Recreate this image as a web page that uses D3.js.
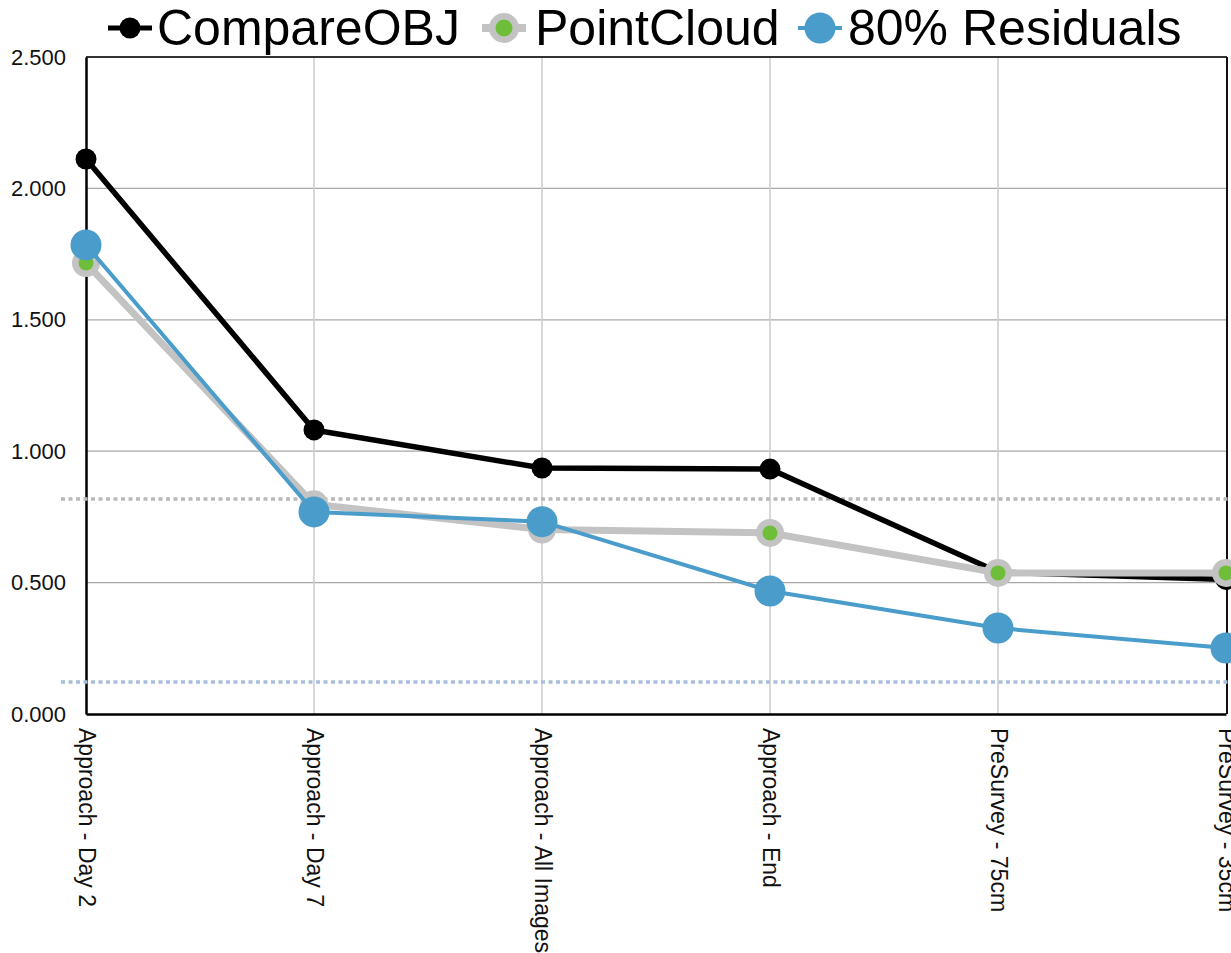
<!DOCTYPE html>
<html>
<head>
<meta charset="utf-8">
<script src="https://cdn.jsdelivr.net/npm/d3@7"></script>
<style>
  html, body { margin: 0; padding: 0; background: #fff; }
  svg { display: block; font-family: "Liberation Sans", Arial, sans-serif; }
</style>
</head>
<body>
<svg id="chart" width="1231" height="953"></svg>
<script>
// Categories along the x axis
const categories = [
  "Approach - Day 2",
  "Approach - Day 7",
  "Approach - All Images",
  "Approach - End",
  "PreSurvey - 75cm",
  "PreSurvey - 35cm"
];

// Series values
const compareObj = [2.112, 1.081, 0.936, 0.932, 0.540, 0.512];
const pointCloud = [1.716, 0.798, 0.702, 0.689, 0.537, 0.537];
const residuals80 = [1.785, 0.769, 0.732, 0.468, 0.327, 0.251];

// Reference levels drawn as dotted lines
const referenceLevels = [0.818, 0.122];

// Y axis ticks
const yTicks = [0, 0.5, 1.0, 1.5, 2.0, 2.5];

const seriesNames = ["CompareOBJ", "PointCloud", "80% Residuals"];

(function () {
const svg = d3.select("#chart");
const plotLeft = 86, plotRight = 1226, plotTop = 57, plotBottom = 714;

const x = d3.scalePoint().domain(categories).range([plotLeft, plotRight]).padding(0);
const y = d3.scaleLinear().domain([0, 2.5]).range([plotBottom, plotTop]);

// Horizontal grid
svg.append("g")
  .selectAll("line")
  .data(yTicks.slice(1, -1))
  .join("line")
  .attr("x1", plotLeft).attr("x2", plotRight)
  .attr("y1", d => y(d)).attr("y2", d => y(d))
  .attr("stroke", "#a8a8a8").attr("stroke-width", 1.2);

// Vertical grid
svg.append("g")
  .selectAll("line")
  .data(categories.slice(1, -1))
  .join("line")
  .attr("x1", d => x(d)).attr("x2", d => x(d))
  .attr("y1", plotTop).attr("y2", plotBottom)
  .attr("stroke", "#cfcfcf").attr("stroke-width", 1.6);

// Frame
svg.append("line").attr("x1", plotLeft).attr("x2", plotRight + 1).attr("y1", plotTop).attr("y2", plotTop)
  .attr("stroke", "#333").attr("stroke-width", 2);
svg.append("line").attr("x1", plotRight + 1).attr("x2", plotRight + 1).attr("y1", plotTop).attr("y2", plotBottom)
  .attr("stroke", "#111").attr("stroke-width", 2);

// Y axis
const yAxis = d3.axisLeft(y).tickValues(yTicks).tickSize(0).tickPadding(20)
  .tickFormat(d3.format(".3f"));
const gy = svg.append("g").attr("transform", `translate(${plotLeft},0)`).call(yAxis);
gy.select(".domain").attr("stroke", "#000").attr("stroke-width", 2.5);
gy.selectAll("text").attr("font-size", 22).attr("fill", "#111")
  .attr("font-family", "'Liberation Sans', Arial, sans-serif");

// X axis
const xAxis = d3.axisBottom(x).tickSize(0).tickPadding(0);
const gx = svg.append("g").attr("transform", `translate(0,${plotBottom})`).call(xAxis);
gx.select(".domain").attr("stroke", "#000").attr("stroke-width", 2.5);
gx.selectAll("text")
  .attr("font-size", 23).attr("fill", "#111")
  .attr("font-family", "'Liberation Sans', Arial, sans-serif")
  .attr("text-anchor", "start")
  .attr("dy", null)
  .attr("y", 0)
  .attr("transform", "translate(-8,14) rotate(90)");

// Dotted reference lines
const refColors = ["#b9b9b9", "#a9bedb"];
svg.append("g")
  .selectAll("line")
  .data(referenceLevels)
  .join("line")
  .attr("x1", 61).attr("x2", 1231)
  .attr("y1", d => y(d)).attr("y2", d => y(d))
  .attr("stroke", (d, i) => refColors[i])
  .attr("stroke-width", 3.5)
  .attr("stroke-dasharray", "4,3.5");

const line = d3.line().x((d, i) => x(categories[i])).y(d => y(d));

// CompareOBJ
svg.append("path").datum(compareObj).attr("d", line)
  .attr("fill", "none").attr("stroke", "#000").attr("stroke-width", 5.5)
  .attr("stroke-linejoin", "round");
svg.append("g").selectAll("circle").data(compareObj).join("circle")
  .attr("cx", (d, i) => x(categories[i])).attr("cy", d => y(d)).attr("r", 10.5)
  .attr("fill", "#000");

// PointCloud
svg.append("path").datum(pointCloud).attr("d", line)
  .attr("fill", "none").attr("stroke", "#c3c3c3").attr("stroke-width", 7)
  .attr("stroke-linejoin", "round");
svg.append("g").selectAll("circle").data(pointCloud).join("circle")
  .attr("cx", (d, i) => x(categories[i])).attr("cy", d => y(d)).attr("r", 14)
  .attr("fill", "#c3c3c3");
svg.append("g").selectAll("circle").data(pointCloud).join("circle")
  .attr("cx", (d, i) => x(categories[i])).attr("cy", d => y(d)).attr("r", 7.5)
  .attr("fill", "#6fbe3a");

// 80% Residuals
svg.append("path").datum(residuals80).attr("d", line)
  .attr("fill", "none").attr("stroke", "#4a9cca").attr("stroke-width", 4)
  .attr("stroke-linejoin", "round");
svg.append("g").selectAll("circle").data(residuals80).join("circle")
  .attr("cx", (d, i) => x(categories[i])).attr("cy", d => y(d)).attr("r", 15.5)
  .attr("fill", "#4a9cca");

// Legend
const legend = svg.append("g");
const legendItems = [
  { name: seriesNames[0], cx: 130, gap: 27, draw: g => {
      g.append("line").attr("x1", -22).attr("x2", 22).attr("stroke", "#000").attr("stroke-width", 5);
      g.append("circle").attr("r", 10.5).attr("fill", "#000");
    } },
  { name: seriesNames[1], cx: 504, gap: 31, draw: g => {
      g.append("line").attr("x1", -22).attr("x2", 22).attr("stroke", "#c3c3c3").attr("stroke-width", 8);
      g.append("circle").attr("r", 15).attr("fill", "#c3c3c3");
      g.append("circle").attr("r", 8.5).attr("fill", "#6fbe3a");
    } },
  { name: seriesNames[2], cx: 820, gap: 28, draw: g => {
      g.append("line").attr("x1", -22).attr("x2", 22).attr("stroke", "#4a9cca").attr("stroke-width", 4);
      g.append("circle").attr("r", 15.5).attr("fill", "#4a9cca");
    } }
];
legendItems.forEach(item => {
  const g = legend.append("g").attr("transform", `translate(${item.cx},28)`);
  item.draw(g);
  legend.append("text")
    .attr("x", item.cx + item.gap).attr("y", 45)
    .attr("font-size", 50).attr("fill", "#000")
    .text(item.name);
});
})();
</script>
</body>
</html>
